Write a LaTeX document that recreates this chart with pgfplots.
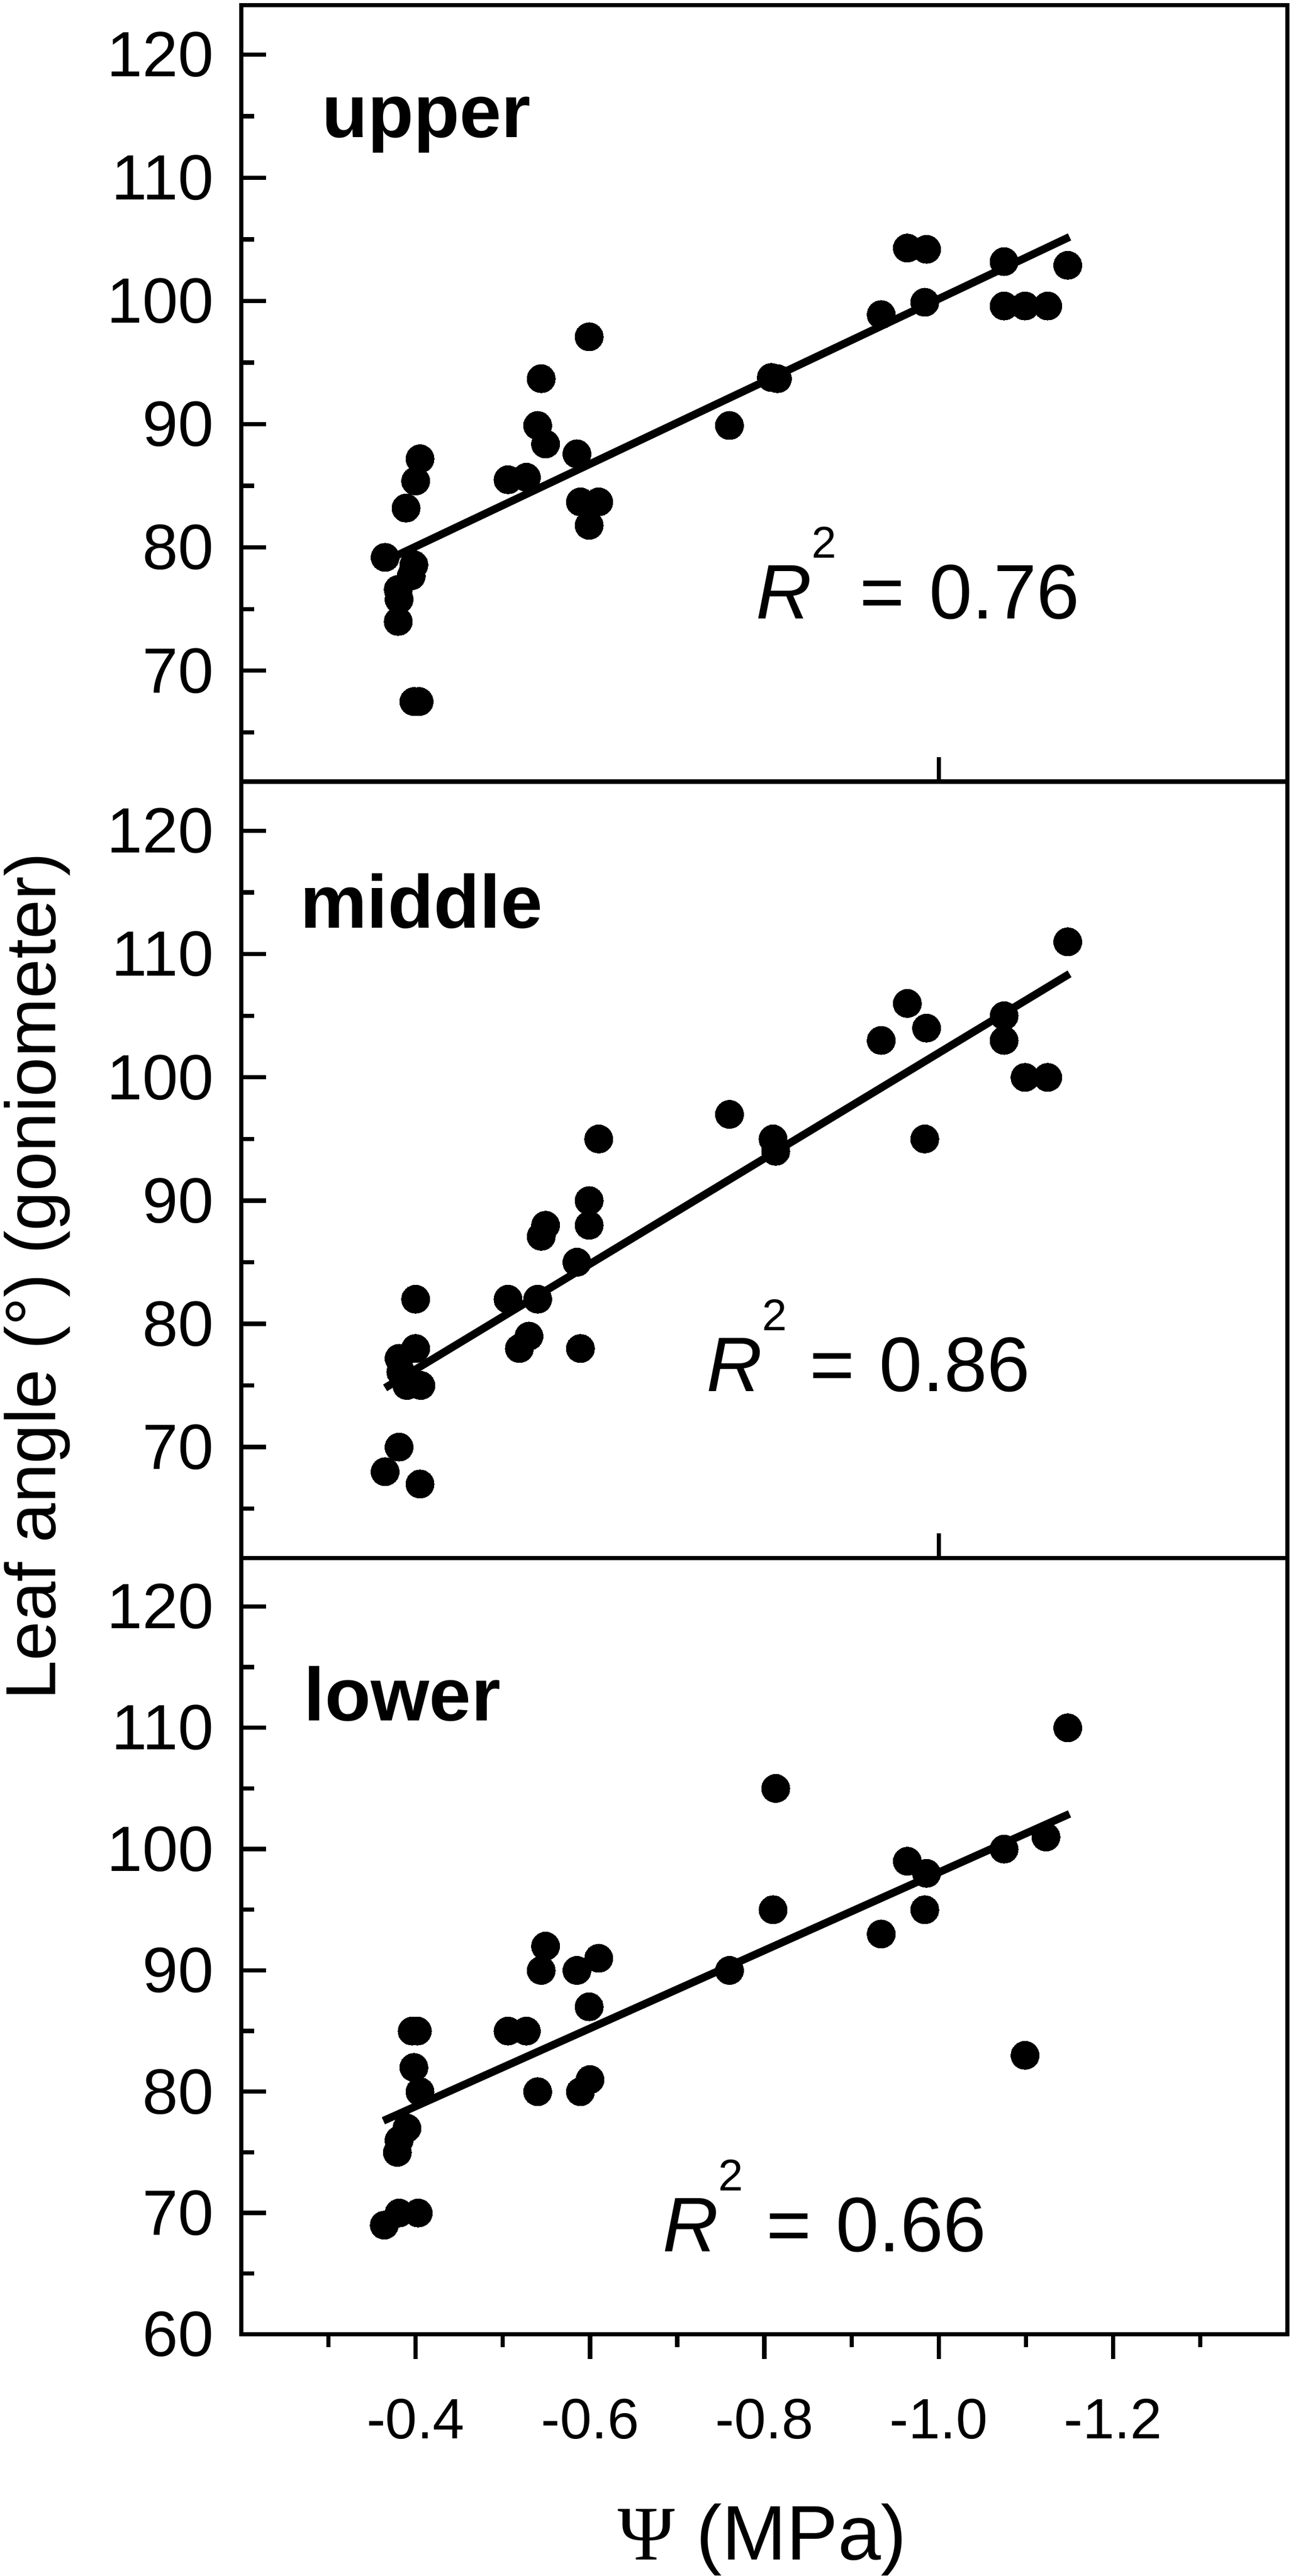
\documentclass[border=0pt]{standalone}
\usepackage{fontspec}
\setmainfont{Liberation Sans}
\newfontfamily\seriffont{Liberation Serif}
\usepackage{pgfplots}
\usepackage{pgfplotstable}
\pgfplotsset{compat=1.18}

\pgfplotstableread{
x y
-0.365 79.2
-0.380 76.6
-0.381 75.8
-0.380 74.0
-0.398 78.6
-0.395 77.7
-0.389 83.2
-0.400 85.4
-0.405 87.2
-0.398 67.5
-0.404 67.5
-0.506 85.5
-0.527 85.7
-0.540 89.9
-0.544 93.7
-0.549 88.4
-0.585 87.6
-0.599 97.1
-0.589 83.7
-0.610 83.7
-0.599 81.8
-0.760 89.9
-0.808 93.8
-0.815 93.7
-0.934 98.9
-0.964 104.3
-0.986 104.2
-0.984 99.9
-1.075 103.2
-1.075 99.6
-1.099 99.6
-1.125 99.6
-1.148 102.9
}\tabU

\pgfplotstableread{
x y
-1.148 111.0
-0.964 106.0
-0.986 104.0
-0.934 103.0
-1.075 105.0
-1.075 103.0
-1.099 100.0
-1.125 100.0
-0.984 95.0
-0.760 97.0
-0.810 95.0
-0.813 94.0
-0.610 95.0
-0.599 90.0
-0.599 88.0
-0.549 88.0
-0.544 87.1
-0.585 85.0
-0.506 82.0
-0.540 82.0
-0.530 79.0
-0.519 78.0
-0.589 78.0
-0.400 82.0
-0.400 78.0
-0.381 77.2
-0.383 76.1
-0.390 75.0
-0.406 75.0
-0.381 70.0
-0.365 68.0
-0.405 67.0
}\tabM

\pgfplotstableread{
x y
-1.148 110.0
-0.813 105.0
-0.964 99.0
-0.986 98.0
-1.075 100.0
-1.123 101.0
-0.810 95.0
-0.984 95.0
-0.934 93.0
-0.760 90.0
-0.549 92.0
-0.544 90.0
-0.585 90.0
-0.610 91.0
-0.599 87.0
-0.506 85.0
-0.527 85.0
-0.396 85.0
-0.402 85.0
-0.398 82.0
-0.405 80.0
-0.540 80.0
-0.589 80.0
-0.600 81.0
-1.099 83.0
-0.390 77.0
-0.381 76.0
-0.379 75.0
-0.364 69.0
-0.381 70.0
-0.403 70.0
}\tabL

\newcommand{\rsq}[1]{{\fontsize{36}{36}\selectfont\textit{R}\raisebox{28.4pt}{\fontsize{20.7}{21}\selectfont 2}\kern10.7pt=\kern11.4pt#1}}

\pgfplotsset{
  panel/.style={
    scale only axis, width=487pt, height=361.5pt,
    xmin=-1.4, xmax=-0.2, x dir=reverse,
    ymax=124,
    ytick pos=left, xtick pos=bottom,
    tick align=inside,
    axis line style={line width=2pt},
    every tick/.style={line width=2pt, black},
    major tick length=11.5pt, minor tick length=6pt,
    minor ytick={65,75,85,95,105,115},
    /pgf/number format/assume math mode=true,
    yticklabel style={font=\fontsize{29.8}{30}\selectfont, anchor=east, inner sep=0pt, xshift=-12.7pt},
    clip=false,
  },
  dots/.style={only marks, mark=*, mark size=6.6pt, mark options={line width=0pt, fill=black, draw=black}},
  fit/.style={line width=3.6pt, black, no marks},
}

\begin{document}
\begin{tikzpicture}
% upper panel
\begin{axis}[panel, at={(0pt,723pt)}, anchor=south west,
  ymin=61, ytick={70,80,...,120},
  xtick={-1.0}, xticklabels={}]
  \addplot[dots] table[x=x,y=y] {\tabU};
  \addplot[fit] coordinates {(-0.365,78.9) (-1.15,105.2)};
  \node[anchor=base west, inner sep=0pt, font=\fontsize{35}{35}\selectfont\bfseries] at (axis cs:-0.292,113.3) {upper};
  \node[anchor=base west, inner sep=0pt] at (axis cs:-0.790,74.2) {\rsq{0.76}};
\end{axis}
% middle panel
\begin{axis}[panel, at={(0pt,361.5pt)}, anchor=south west,
  ymin=61, ytick={70,80,...,120},
  xtick={-1.0}, xticklabels={}]
  \addplot[dots] table[x=x,y=y] {\tabM};
  \addplot[fit] coordinates {(-0.365,74.8) (-1.15,108.4)};
  \node[anchor=base west, inner sep=0pt, font=\fontsize{35}{35}\selectfont\bfseries] at (axis cs:-0.267,112.1) {middle};
  \node[anchor=base west, inner sep=0pt] at (axis cs:-0.733,74.5) {\rsq{0.86}};
\end{axis}
% lower panel
\begin{axis}[panel, at={(0pt,0pt)}, anchor=south west,
  ymin=60, ytick={60,70,...,120},
  xtick=\empty]
  \addplot[dots] table[x=x,y=y] {\tabL};
  \addplot[fit] coordinates {(-0.363,77.6) (-1.15,102.9)};
  \node[anchor=base west, inner sep=0pt, font=\fontsize{35}{35}\selectfont\bfseries] at (axis cs:-0.2716,110.6) {lower};
  \node[anchor=base west, inner sep=0pt] at (axis cs:-0.683,66.8) {\rsq{0.66}};
\end{axis}
% bottom x ticks (outside)
\begin{axis}[scale only axis, width=487pt, height=361.5pt, at={(0pt,0pt)}, anchor=south west,
  xmin=-1.4, xmax=-0.2, x dir=reverse, ymin=60, ymax=124,
  axis y line=none, axis x line*=bottom,
  axis line style={line width=2pt},
  every tick/.style={line width=2pt, black},
  tick align=outside, xtick pos=bottom,
  major tick length=11.5pt, minor tick length=6pt,
  xtick={-0.4,-0.6,-0.8,-1.0,-1.2},
  xticklabels={{-0.4},{-0.6},{-0.8},{-1.0},{-1.2}},
  minor xtick={-0.3,-0.5,-0.7,-0.9,-1.1,-1.3},
  xticklabel style={font=\fontsize{26.5}{27}\selectfont, anchor=north, inner sep=0pt, yshift=-18.5pt},
]
\end{axis}
\node[rotate=90, anchor=base, inner sep=0pt, font=\fontsize{33}{33}\selectfont] at (-86.6pt,492.6pt) {Leaf angle (°) (goniometer)};
\node[anchor=base, inner sep=0pt, font=\fontsize{36}{36}\selectfont] at (242.5pt,-105pt) {{\seriffont Ψ} (MPa)};
\pgfresetboundingbox
\useasboundingbox (-112.32pt,-112.56pt) rectangle (488.4pt,1086.96pt);
\end{tikzpicture}
\end{document}
